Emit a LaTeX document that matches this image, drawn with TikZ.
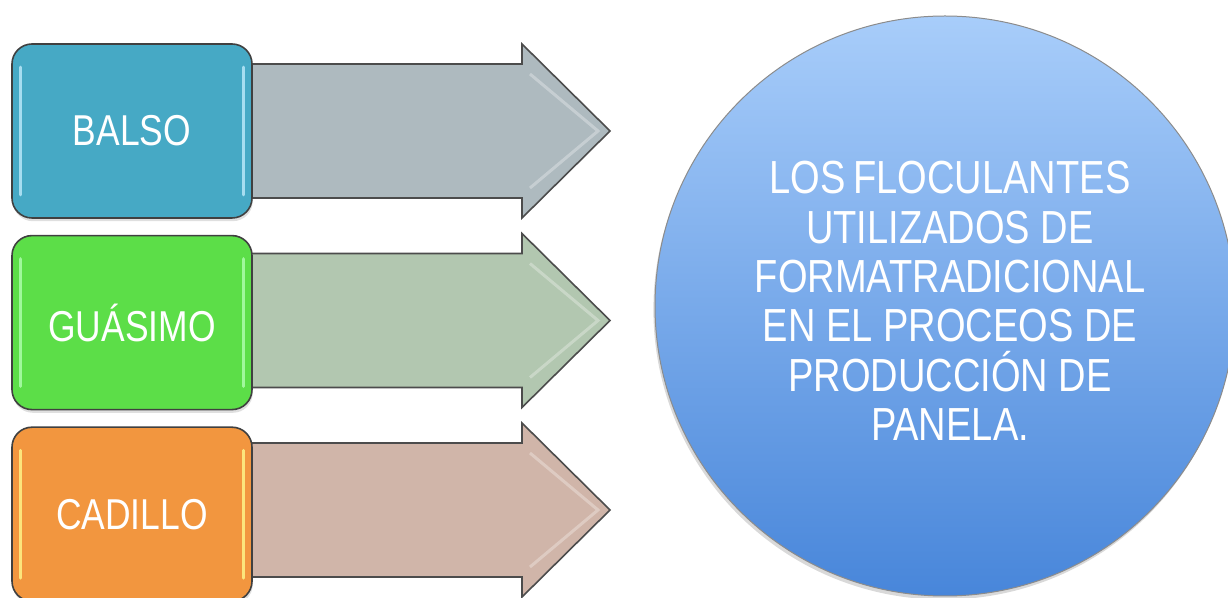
\documentclass[tikz,border=0pt]{standalone}
\usepackage{fontspec}
\setmainfont{Liberation Sans}[FakeStretch=0.82]
\usetikzlibrary{positioning, shadows}
\definecolor{balso}{HTML}{46A9C5}
\definecolor{guasimo}{HTML}{5CDE48}
\definecolor{cadillo}{HTML}{F2963F}
\definecolor{frecciaBalso}{HTML}{AEBABF}
\definecolor{frecciaGuasimo}{HTML}{B2C7B0}
\definecolor{frecciaCadillo}{HTML}{D0B5A9}
\definecolor{cerchioAlto}{HTML}{A8CDFA}
\definecolor{cerchioBasso}{HTML}{4886DA}
\tikzset{
  riquadro/.style={draw=black!75, line width=0.8pt, rounded corners=10pt,
    minimum width=120pt, minimum height=87pt, inner sep=0pt, text=white,
    font=\fontsize{21.6}{24}\selectfont,
    drop shadow={shadow xshift=0.4pt, shadow yshift=-1.6pt, opacity=0.25}},
  freccia/.style={draw=black!70, line width=0.8pt, line join=miter},
  riflesso/.style={line width=1.6pt, line cap=round, opacity=0.8},
}

\begin{document}
\begin{tikzpicture}[x=0.5pt, y=-0.5pt]
    % Parametri
    \pgfmathsetmacro{\yA}{131}
    \pgfmathsetmacro{\yB}{320.5}
    \pgfmathsetmacro{\yC}{510}
    \pgfmathsetmacro{\fusto}{67}
    \pgfmathsetmacro{\mezza}{87}
    \pgfmathsetmacro{\inizio}{240}
    \pgfmathsetmacro{\base}{522}
    \pgfmathsetmacro{\punta}{610}
    \useasboundingbox (0,0) rectangle (1228,598);
    \clip (0,0) rectangle (1228,598);
    % Frecce
    \draw[freccia, fill=frecciaBalso] (\inizio,{\yA-\fusto}) -- (\base,{\yA-\fusto}) -- (\base,{\yA-\mezza}) -- (\punta,\yA) -- (\base,{\yA+\mezza}) -- (\base,{\yA+\fusto}) -- (\inizio,{\yA+\fusto}) -- cycle;
    \draw[freccia, fill=frecciaGuasimo] (\inizio,{\yB-\fusto}) -- (\base,{\yB-\fusto}) -- (\base,{\yB-\mezza}) -- (\punta,\yB) -- (\base,{\yB+\mezza}) -- (\base,{\yB+\fusto}) -- (\inizio,{\yB+\fusto}) -- cycle;
    \draw[freccia, fill=frecciaCadillo] (\inizio,{\yC-\fusto}) -- (\base,{\yC-\fusto}) -- (\base,{\yC-\mezza}) -- (\punta,\yC) -- (\base,{\yC+\mezza}) -- (\base,{\yC+\fusto}) -- (\inizio,{\yC+\fusto}) -- cycle;
    % Smussi delle punte
    \draw[white, opacity=0.3, line width=1.5pt] ({\base+8},{\yA-\mezza+30}) -- ({\punta-12},\yA) -- ({\base+8},{\yA+\mezza-30});
    \draw[white, opacity=0.3, line width=1.5pt] ({\base+8},{\yB-\mezza+30}) -- ({\punta-12},\yB) -- ({\base+8},{\yB+\mezza-30});
    \draw[white, opacity=0.3, line width=1.5pt] ({\base+8},{\yC-\mezza+30}) -- ({\punta-12},\yC) -- ({\base+8},{\yC+\mezza-30});
    % Riquadri
    \node[riquadro, fill=balso] (balso) at (132,\yA) {BALSO};
    \node[riquadro, fill=guasimo, below=8pt of balso] (guasimo) {GUÁSIMO};
    \node[riquadro, fill=cadillo, below=8pt of guasimo] (cadillo) {CADILLO};
    % Riflessi sui bordi
    \draw[riflesso, cyan!25!white] ([xshift=4.5pt, yshift=-12pt]balso.north west) -- ([xshift=4.5pt, yshift=12pt]balso.south west);
    \draw[riflesso, cyan!25!white] ([xshift=-4.5pt, yshift=-12pt]balso.north east) -- ([xshift=-4.5pt, yshift=12pt]balso.south east);
    \draw[riflesso, green!30!white] ([xshift=4.5pt, yshift=-12pt]guasimo.north west) -- ([xshift=4.5pt, yshift=12pt]guasimo.south west);
    \draw[riflesso, green!30!white] ([xshift=-4.5pt, yshift=-12pt]guasimo.north east) -- ([xshift=-4.5pt, yshift=12pt]guasimo.south east);
    \draw[riflesso, yellow!45!white] ([xshift=4.5pt, yshift=-12pt]cadillo.north west) -- ([xshift=4.5pt, yshift=12pt]cadillo.south west);
    \draw[riflesso, yellow!45!white] ([xshift=-4.5pt, yshift=-12pt]cadillo.north east) -- ([xshift=-4.5pt, yshift=12pt]cadillo.south east);
    % Cerchio
    \node[circle, minimum size=290pt, inner sep=0pt, draw=black!45, line width=0.5pt,
      top color=cerchioAlto, bottom color=cerchioBasso,
      drop shadow={shadow xshift=-0.8pt, shadow yshift=-1.8pt, opacity=0.3}] (flocul) at (945,306) {};
    \node[text=white, align=center, inner sep=0pt, font=\fontsize{23.2}{24.7}\selectfont]
      (testo) at ([xshift=2.5pt, yshift=2.5pt]flocul.center)
      {LOS\,FLOCULANTES\\ UTILIZADOS DE\\ FORMATRADICIONAL\\ EN EL PROCEOS DE\\ PRODUCCIÓN DE\\ PANELA.};
\end{tikzpicture}
\end{document}
